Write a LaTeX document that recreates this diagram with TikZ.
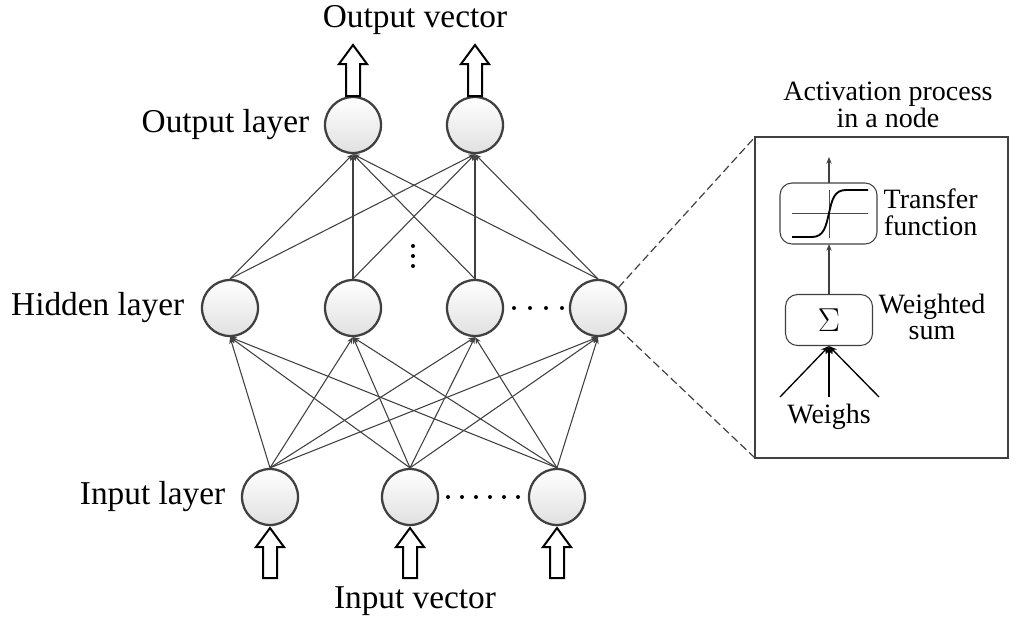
\documentclass[tikz,border=0pt]{standalone}
\usepackage{fontspec}
\setmainfont{Liberation Serif}
\usetikzlibrary{arrows.meta}
\begin{document}
\begin{tikzpicture}[x=0.75pt,y=-0.75pt,
  neuron/.style={circle,draw=black!75,line width=1.7pt,minimum size=42pt,inner sep=0pt,top color=white,bottom color=black!12},
  conn/.style={draw=black!75,line width=0.8pt,-{Stealth[length=5pt,width=4pt]}},
  lbl/.style={font=\fontsize{25}{28}\selectfont,align=center},
  slbl/.style={font=\fontsize{21}{20}\selectfont,align=center},
  fat/.style={draw=black,line width=1.5pt,fill=white},
  dot/.style={fill=black,circle,inner sep=0pt,minimum size=3pt}]
\useasboundingbox (0,0) rectangle (1024,625);
\node[neuron] (o1) at (353,125) {};
\node[neuron] (o2) at (475,125) {};
\node[neuron] (h1) at (230,308) {};
\node[neuron] (h2) at (353,308) {};
\node[neuron] (h3) at (475,308) {};
\node[neuron] (h4) at (598,308) {};
\node[neuron] (i1) at (270,497) {};
\node[neuron] (i2) at (410,497) {};
\node[neuron] (i3) at (557,497) {};
\foreach \i in {i1,i2,i3}\foreach \h in {h1,h2,h3,h4}\draw[conn] (\i.north) -- (\h.south);
\foreach \h in {h1,h2,h3,h4}\foreach \o in {o1,o2}\draw[conn] (\h.north) -- (\o.south);
\foreach \x in {353,475}{
 \draw[fat] (\x-7,96) -- (\x-7,64) -- (\x-14,64) -- (\x,45) -- (\x+14,64) -- (\x+7,64) -- (\x+7,96) -- cycle;}
\foreach \x in {270,410,557}{
 \draw[fat] (\x-7,578) -- (\x-7,547) -- (\x-14,547) -- (\x,528) -- (\x+14,547) -- (\x+7,547) -- (\x+7,578) -- cycle;}
\foreach \x in {514,530,546,562}\node[dot] at (\x,308) {};
\foreach \y in {246,256,266}\node[dot] at (413,\y) {};
\foreach \x in {448,462,476,490,504,518}\node[dot] at (\x,497) {};
\node[lbl] (tov) at (415,20) {Output vector};
\node[lbl,anchor=east] (tol) at (314,125) {Output layer};
\node[lbl,anchor=east] (thl) at (189,308) {Hidden layer};
\node[lbl,anchor=east] (til) at (230,497) {Input layer};
\node[lbl] (tiv) at (415,601) {Input vector};
\draw[black!75,line width=1.1pt] (755,137) rectangle (1008,458);
\coordinate (bnw) at (755,137);
\coordinate (bsw) at (755,458);
\draw[black!75,dash pattern=on 6pt off 3pt,line width=0.9pt] (h4.north east) -- (bnw);
\draw[black!75,dash pattern=on 6pt off 3pt,line width=0.9pt] (h4.south east) -- (bsw);
\node[slbl] (tap) at (888,105) {Activation process\\in a node};
\draw[black!75,rounded corners=9pt,line width=0.8pt] (780,183) rectangle (877,244);
\coordinate (tfn) at (829,183);
\coordinate (tfs) at (829,244);
\draw[black!70,line width=0.6pt] (792,213) -- (868,213) (829,190) -- (829,238);
\draw[black,line width=1.4pt] (792,237) -- (812,237) .. controls (824,237) and (826,226) .. (829,213) .. controls (832,200) and (834,190) .. (846,190) -- (868,190);
\node[draw=black!75,rounded corners=9pt,line width=0.8pt,minimum width=87*0.75pt,minimum height=51*0.75pt,inner sep=0pt,font=\fontsize{32}{32}\selectfont] (sg) at (829,320) {$\Sigma$};
\coordinate (top) at (829,157);
\draw[conn] (tfn) -- (top);
\draw[conn] (sg.north) -- (tfs);
\coordinate (w1) at (780,397);
\coordinate (w2) at (829,397);
\coordinate (w3) at (879,397);
\foreach \w in {w1,w2,w3}\draw[black,line width=1pt,-{Stealth[length=6pt,width=5pt]}] (\w) -- (sg.south);
\node[slbl] (tw) at (829,417) {Weighs};
\node[slbl,anchor=west] (ttf) at (879,212) {Transfer\\function};
\node[slbl] (tws) at (932,317) {Weighted\\sum};
\end{tikzpicture}
\end{document}
